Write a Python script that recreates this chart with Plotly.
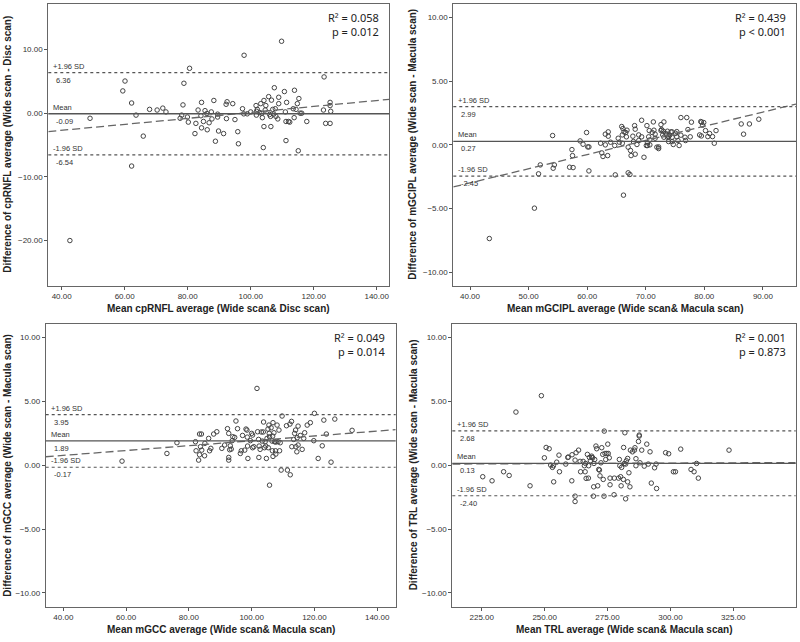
import plotly.graph_objects as go

# ---------------- data ----------------
# Panel 1: cpRNFL
p1_mean = [49.0, 60.1, 59.4, 62.2, 63.6, 62.2, 65.9, 67.9, 70.3, 72.1, 73.1, 42.6, 80.6, 78.8, 78.5, 77.6, 78.1,
           79.9, 80.2, 82.3, 82.6, 83.3, 84.2, 84.4, 84.4, 85.0, 85.5, 86.1, 86.2, 86.8, 87.5, 87.7, 88.3, 88.8,
           89.5, 89.5, 89.8, 91.4, 92.2, 92.5, 92.3, 94.3, 95.0, 95.9, 96.1, 97.4, 97.9, 97.8, 98.9, 100.0, 101.7,
           101.9, 102.1, 101.8, 102.8, 103.2, 103.5, 103.7, 104.2, 104.2, 104.0, 104.6, 104.8, 105.7, 106.0, 106.3,
           106.4, 106.6, 107.0, 107.3, 107.5, 107.8, 108.0, 108.6, 108.9, 108.9, 109.8, 110.7, 111.0, 111.2, 111.2,
           111.4, 112.0, 112.4, 113.5, 113.8, 113.9, 114.4, 114.8, 115.1, 115.3, 115.7, 116.2, 117.8, 123.3, 123.1,
           123.8, 125.2, 125.2, 125.4, 125.2]
p1_diff = [-0.8, 5.05, 3.5, 1.6, -0.3, -8.3, -3.6, 0.6, 0.5, 0.8, 0.2, -20.0, 7.05, 4.7, 1.3, -0.8, -0.3,
           -0.6, -1.4, -3.2, -1.6, 0.5, -0.4, 1.7, -2.3, -1.3, 0.4, -0.05, -2.6, -1.5, 0.2, -0.9, 2.0, -4.4,
           -0.15, -0.6, -2.8, -3.2, 1.4, 1.8, -0.85, 1.5, -1.0, -2.9, -4.8, 0.7, 9.1, -0.1, -0.1, 0.2, 1.2,
           0.3, 0.6, -0.3, 0.1, 1.5, 0.0, -0.7, 2.0, -2.1, -5.4, 0.5, 1.2, 2.6, -0.2, -0.5,
           -2.1, 2.05, 0.6, -0.15, 4.0, 0.7, -0.5, -0.9, 2.5, 1.5, 11.3, 3.4, 0.2, -1.3, -4.3,
           1.7, -1.3, -1.4, 0.7, -0.7, 3.6, 0.6, 1.5, -5.9, 2.3, 0.0, 0.0, -1.3, 5.7, 0.5,
           -1.6, 1.7, 1.2, 0.3, -1.6]

# Panel 2: mGCIPL
p2_mean = [43.3, 51.0, 51.7, 52.0, 54.1, 54.2, 54.4, 57.0, 57.4, 57.5, 57.6, 58.8, 59.3, 59.9, 60.1, 60.3, 60.3,
           62.3, 62.5, 62.7, 63.1, 63.1, 63.5, 63.6, 63.6, 64.0, 64.7, 64.8, 65.3, 65.5, 65.9, 66.0, 66.0, 66.1,
           66.3, 66.6, 66.8, 66.7, 66.2, 67.0, 67.3, 67.0, 67.4, 67.5, 67.8, 67.9, 68.1, 68.2, 68.2, 68.5, 68.8,
           68.8, 69.3, 69.3, 69.7, 70.1, 70.2, 70.3, 70.3, 70.5, 70.6, 70.7, 70.7, 71.1, 71.3, 71.4, 71.6, 71.6,
           71.9, 72.2, 72.2, 72.6, 72.6, 72.7, 72.9, 73.0, 73.1, 73.1, 73.4, 73.6, 73.7, 73.7, 73.9, 73.9, 74.1,
           74.3, 74.5, 74.5, 74.5, 74.7, 75.1, 75.3, 75.3, 75.5, 75.7, 76.0, 76.0, 76.7, 76.8, 77.0, 77.2, 77.6,
           77.8, 79.2, 79.4, 79.5, 79.5, 79.7, 79.9, 80.2, 80.6, 80.9, 81.4, 81.7, 82.0, 86.3, 86.7, 87.7, 89.3]
p2_diff = [-7.34, -4.96, -2.27, -1.57, 0.73, -1.83, -1.57, -1.75, -0.37, -0.84, -1.78, 0.31, 0.05, 0.97, -0.16, -0.16, -2.04,
           0.13, -0.63, -0.91, 0.84, 0.0, -0.84, 1.02, 0.68, 0.21, -0.05, -2.35, 0.52, 0.21, 1.44, 0.13, 0.78, 1.28,
           1.02, 0.97, 1.15, 0.63, -3.94, -2.19, -2.32, -0.18, -0.44, -0.84, 0.68, 0.26, 1.51, 1.23, -0.73, 0.03, 0.34,
           0.78, 1.93, 0.63, -0.97, -0.05, 1.51, 0.16, -0.05, 0.63, 1.12, 0.39, 0.0, 0.97, 1.80, 1.15, 0.52, 0.84,
           -0.18, -0.29, -0.16, 1.12, 1.59, 1.2, 0.78, 1.07, 1.8, 0.6, 0.91, 0.78, 1.07, 0.6, 0.65, 0.26, 0.76,
           1.02, 1.02, 0.6, 0.26, 0.03, 0.91, 1.04, 0.63, 0.34, -0.05, 0.76, 2.14, 0.6, 0.34, 2.14, 1.2, 0.63,
           1.78, 0.78, 1.83, 1.78, 0.7, 1.54, 1.75, 1.12, 0.65, 0.89, 0.65, 0.13, 1.12, 1.64, 0.84, 1.64, 2.01]

# Panel 3: mGCC
p3_mean = [58.7, 73.0, 76.2, 82.1, 82.3, 83.1, 83.4, 83.4, 84.0, 83.7, 84.1, 85.0, 85.1, 86.3, 86.6, 87.0, 87.9,
           88.9, 90.5, 91.4, 92.3, 92.7, 92.7, 92.7, 93.0, 93.2, 93.5, 93.8, 94.0, 94.6, 95.0, 95.5, 96.4, 96.7,
           97.1, 97.8, 98.2, 98.5, 98.6, 98.8, 98.7, 99.6, 100.0, 100.3, 100.3, 100.7, 101.7, 101.9, 102.2, 102.4,
           102.3, 102.7, 103.1, 103.4, 103.7, 103.8, 104.1, 104.3, 104.5, 104.7, 104.9, 105.2, 105.3, 105.5, 105.6,
           105.7, 105.7, 106.2, 106.5, 106.6, 106.7, 106.8, 106.8, 107.1, 107.3, 107.6, 107.7, 107.7, 108.1, 108.4,
           108.7, 108.9, 109.1, 109.4, 109.7, 111.1, 111.4, 112.2, 112.3, 112.7, 112.8, 113.4, 113.7, 114.0, 114.1,
           114.4, 114.5, 114.8, 114.8, 115.5, 116.1, 116.6, 116.9, 117.7, 118.7, 119.8, 120.0, 121.2, 122.5, 123.0,
           123.8, 125.3, 126.5, 132.0]
p3_diff = [0.31, 0.91, 1.75, 1.83, 1.12, 0.39, 0.81, 2.43, 2.43, 1.44, 1.17, 0.73, 1.70, 2.09, 1.12, 1.31, 2.43,
           2.61, 1.31, 1.57, 2.85, 2.48, 0.60, 0.39, 1.20, 1.51, 1.25, 1.91, 2.22, 2.17, 3.45, 2.85, 0.91, 1.12,
           2.32, 1.17, 2.82, 2.74, 2.19, 0.52, 1.49, 1.91, 2.48, 2.35, 1.36, 1.44, 6.0, 2.61, 2.01, 1.49,
           0.60, 1.23, 2.59, 1.88, 2.59, 3.37, 1.36, 1.83, 1.49, 0.52, 2.09, 2.82, 1.36, 3.13, 2.48,
           2.22, -1.57, 2.92, 1.88, 1.12, 2.27, 3.32, 0.68, 2.53, 1.83, 1.12, 0.86, 1.80, 3.13, 1.83,
           2.74, 1.12, 1.75, -0.39, 3.84, 3.08, -0.39, 3.21, -0.76, 3.42, 1.44, 2.01, 2.48, 2.74, 1.44,
           1.04, 2.14, 3.05, 1.57, 2.32, 1.23, 2.09, 2.53, 3.13, 3.32, 1.91, 4.05, 0.52, 1.51, 3.52,
           2.43, 0.23, 3.60, 2.72]

# Panel 4: TRL
p4_mean = [225.4, 229.1, 233.7, 235.9, 238.6, 244.2, 248.7, 249.9, 250.6, 251.8, 252.4, 253.1, 253.5, 253.6, 254.8,
           255.7, 255.9, 258.4, 259.2, 259.4, 260.8, 260.9, 262.1, 262.1, 262.1, 262.5, 263.5, 264.1, 264.3, 265.3,
           265.8, 266.1, 266.3, 266.5, 267.0, 267.4, 267.5, 267.8, 268.2, 268.7, 268.8, 269.1, 269.4, 269.5, 269.6,
           269.9, 270.4, 270.7, 271.1, 271.5, 271.8, 272.0, 272.4, 272.7, 273.1, 273.3, 273.6, 273.7, 274.0, 274.3,
           274.7, 275.1, 275.3, 275.7, 276.0, 276.0, 277.6, 277.7, 279.4, 279.7, 279.9, 280.2, 280.4, 280.6, 281.3,
           281.4, 281.7, 281.9, 282.2, 282.2, 282.5, 283.0, 283.0, 283.5, 283.9, 284.1, 284.9, 285.7, 285.9, 286.3,
           286.3, 287.3, 287.6, 287.6, 287.9, 288.6, 289.6, 290.6, 291.2, 291.9, 292.4, 293.7, 294.3, 294.5, 298.1,
           299.3, 301.2, 302.0, 304.1, 308.2, 309.4, 310.4, 311.1, 323.3]
p4_diff = [-0.91, -1.23, -0.52, -0.81, 4.15, -1.62, 5.43, 0.57, 1.38, 1.28, 0.0, -0.18, -0.05, -1.31, 0.23,
           0.78, -0.52, 0.08, 0.60, 0.63, -1.23, 0.81, 0.39, -2.43, -2.85, 0.97, 1.17, 0.29, -0.52, 0.29,
           -0.05, -0.52, 0.13, -1.04, 0.84, -1.02, -0.05, 0.60, 0.34, 0.70, 0.60, 0.57, -2.43, -1.70, 0.13,
           0.44, 1.49, 1.28, -1.62, -0.34, -0.39, -0.84, 0.18, 1.36, 0.84, -1.12, -2.43, 2.66, 0.91, 0.44,
           0.91, 1.64, 0.91, 0.57, -1.02, -1.54, -2.32, -1.02, -1.02, 0.44, -0.05, -0.91, -1.62, -0.18, -1.12,
           1.38, 0.13, 2.53, -2.64, 0.08, 0.34, 0.52, -1.31, -0.60, -1.70, 1.17, 1.04, 1.17, 1.36, 0.50,
           -0.05, 1.85, 2.35, 2.27, 0.18, 1.17, -0.08, 1.64, 0.08, 1.04, -1.41, -0.21, 0.08, -1.83, 0.97,
           0.89, -0.52, -0.52, 1.25, -0.34, -0.52, 0.13, -1.02, 1.17]

# Bland-Altman statistics per panel: mean difference, +1.96 SD, -1.96 SD
bias = [-0.09, 0.27, 1.89, 0.13]
upper_loa = [6.36, 2.99, 3.95, 2.68]
lower_loa = [-6.54, -2.45, -0.17, -2.40]
# proportional-bias regression (intercept, slope) and stats
reg_intercept = [-4.56, -7.42, 0.0, -0.107]
reg_slope = [0.0468, 0.111, 0.019, 0.00088]
r2_text = ["0.058", "0.439", "0.049", "0.001"]
p_text = ["= 0.012", "< 0.001", "= 0.014", "= 0.873"]

x_titles = ["Mean cpRNFL average (Wide scan& Disc scan)",
            "Mean mGCIPL average (Wide scan& Macula scan)",
            "Mean mGCC average (Wide scan& Macula scan)",
            "Mean TRL average (Wide scan& Macula scan)"]
y_titles = ["Difference of cpRNFL average (Wide scan - Disc scan)",
            "Difference of mGCIPL average (Wide scan - Macula scan)",
            "Difference of mGCC average (Wide scan - Macula scan)",
            "Difference of TRL average (Wide scan - Macula scan)"]
x_ticks = [[40, 60, 80, 100, 120, 140],
           [40, 50, 60, 70, 80, 90],
           [40, 60, 80, 100, 120, 140],
           [225, 250, 275, 300, 325]]
y_ticks = [[-20, -10, 0, 10],
           [-10, -5, 0, 5, 10],
           [-10, -5, 0, 5, 10],
           [-10, -5, 0, 5, 10]]

# ---------------- layout geometry ----------------
W, H = 800, 642
boxes = [(48.3, 389.3, 4, 285.5), (453.3, 796, 4, 285.5),
         (45.7, 395.7, 324, 606.7), (452.3, 795.7, 324, 606.7)]
x_ranges = [[35.75, 144.0], [37.15, 95.65], [34.38, 145.9], [213.3, 349.8]]
y_ranges = [[-27.06, 17.15], [-11.02, 11.04], [-11.08, 11.04], [-11.08, 11.04]]
xtitle_y = [308, 308, 629, 629]
ytitle_x = [8, 413, 7.5, 413]

means = [p1_mean, p2_mean, p3_mean, p4_mean]
diffs = [p1_diff, p2_diff, p3_diff, p4_diff]

FONT = "Liberation Sans, Arial, sans-serif"
LINE = "#555555"

fig = go.Figure()
layout = dict(width=W, height=H, margin=dict(l=0, r=0, t=0, b=0, pad=0, autoexpand=False),
              paper_bgcolor="white", plot_bgcolor="white", showlegend=False,
              font=dict(family=FONT, color="#222"))
shapes = []
annotations = []

for i in range(4):
    sfx = "" if i == 0 else str(i + 1)
    xa, ya = "x" + sfx, "y" + sfx
    l, r, t, b = boxes[i]
    layout["xaxis" + sfx] = dict(
        domain=[l / W, r / W], range=x_ranges[i], anchor=ya, automargin=False,
        tickvals=x_ticks[i], tickformat=".2f", ticks="outside", ticklen=3,
        tickcolor="#555", tickfont=dict(size=8, color="#333"),
        showline=True, linecolor="#666", linewidth=1, mirror=True,
        showgrid=False, zeroline=False)
    layout["yaxis" + sfx] = dict(
        domain=[1 - b / H, 1 - t / H], range=y_ranges[i], anchor=xa, automargin=False,
        tickvals=y_ticks[i], tickformat=".2f", ticks="outside", ticklen=3,
        tickcolor="#555", tickfont=dict(size=8, color="#333"),
        showline=True, linecolor="#666", linewidth=1, mirror=True,
        showgrid=False, zeroline=False)

    # axis titles
    annotations.append(dict(text="<b>" + x_titles[i] + "</b>", xref="paper", yref="paper",
                            x=(l + r) / 2 / W, y=1 - xtitle_y[i] / H, xanchor="center", yanchor="middle",
                            showarrow=False, font=dict(size=10, color="#222")))
    annotations.append(dict(text="<b>" + y_titles[i] + "</b>", xref="paper", yref="paper",
                            x=ytitle_x[i] / W, y=1 - (t + b) / 2 / H, xanchor="center", yanchor="middle",
                            textangle=-90, showarrow=False, font=dict(size=10, color="#222")))

    # points
    fig.add_trace(go.Scatter(x=means[i], y=diffs[i], mode="markers", xaxis=xa, yaxis=ya,
                             marker=dict(symbol="circle-open", size=4.5, color="#444",
                                         line=dict(width=1, color="#444")),
                             hoverinfo="x+y"))
    # regression line
    rx = x_ranges[i]
    ry = [reg_intercept[i] + reg_slope[i] * v for v in rx]
    fig.add_trace(go.Scatter(x=rx, y=ry, mode="lines", xaxis=xa, yaxis=ya,
                             line=dict(color="#666", width=1.3, dash="8px,4px"),
                             hoverinfo="skip"))

    # bias and limits of agreement
    for val, dash, w in [(upper_loa[i], "dot", 1.2), (bias[i], "solid", 1.3), (lower_loa[i], "dot", 1.2)]:
        shapes.append(dict(type="line", xref=xa + " domain", yref=ya, x0=0, x1=1, y0=val, y1=val,
                           line=dict(color=LINE, width=w, dash=dash)))
    labels = [("+1.96 SD", upper_loa[i]), ("Mean", bias[i]), ("-1.96 SD", lower_loa[i])]
    for name, val in labels:
        annotations.append(dict(text=name, xref=xa + " domain", yref=ya, x=0, y=val,
                                xanchor="left", yanchor="bottom", xshift=3, yshift=0, showarrow=False,
                                font=dict(size=7.5, color="#333")))
        annotations.append(dict(text=f"{val:.2f}", xref=xa + " domain", yref=ya, x=0, y=val,
                                xanchor="left", yanchor="top", xshift=6, yshift=-1, showarrow=False,
                                font=dict(size=7.5, color="#333")))
    annotations.append(dict(text=f"R² = {r2_text[i]}<br>p {p_text[i]}", xref=xa + " domain", yref=ya + " domain",
                            x=1, y=1, xanchor="right", yanchor="top", xshift=-8, yshift=-4, align="right",
                            showarrow=False, font=dict(size=11, color="#222", family="Noto Sans, sans-serif")))

layout["shapes"] = shapes
layout["annotations"] = annotations
fig.update_layout(**layout)
fig.write_html("out.html", config={"displayModeBar": False},
               post_script="document.body.style.margin='0';document.body.style.overflow='hidden';")
